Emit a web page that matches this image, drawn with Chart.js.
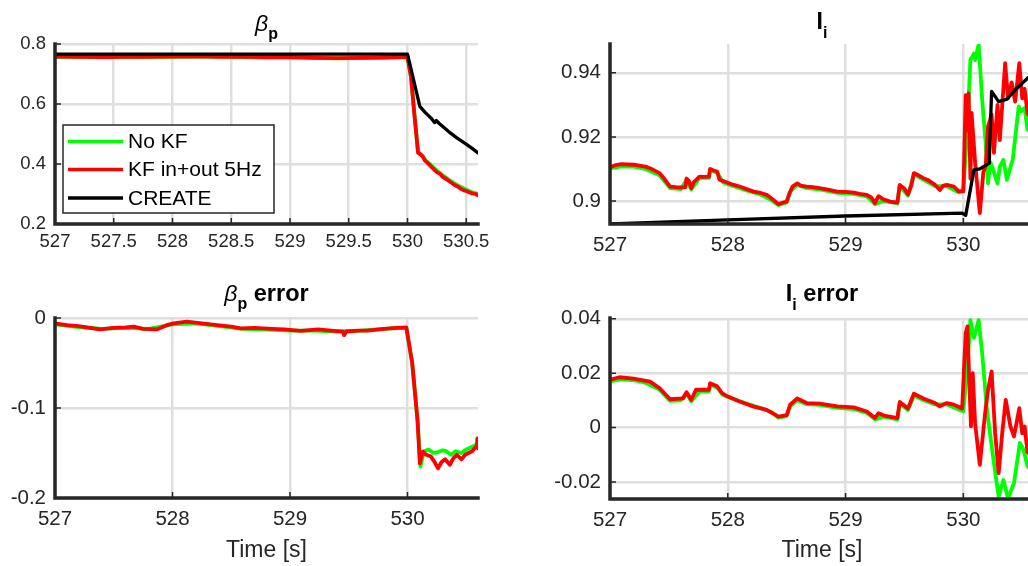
<!DOCTYPE html>
<html><head><meta charset="utf-8">
<script src="https://cdn.jsdelivr.net/npm/chart.js@4.4.1/dist/chart.umd.min.js"></script>
<style>
html,body{margin:0;padding:0;background:#fff;overflow:hidden}
#fig{position:relative;width:1028px;height:566px;overflow:hidden;background:#fff}
canvas{position:absolute;display:block}
</style></head><body>
<div id="fig">
<canvas id="c1" width="500" height="262" style="left:0;top:0;width:500px;height:262px"></canvas>
<canvas id="c2" width="500" height="262" style="left:555px;top:0;width:500px;height:262px"></canvas>
<canvas id="c3" width="500" height="304" style="left:0;top:262px;width:500px;height:304px"></canvas>
<canvas id="c4" width="500" height="304" style="left:555px;top:262px;width:500px;height:304px"></canvas>
</div>
<script>
// ---------- labels ----------
const seriesNames = ['No KF', 'KF in+out 5Hz', 'CREATE'];
const xLabel = 'Time [s]';
const ticksX_top = [527, 527.5, 528, 528.5, 529, 529.5, 530, 530.5];
const ticksX_int = [527, 528, 529, 530];
const ticksY_bp = [0.2, 0.4, 0.6, 0.8];
const ticksY_li = [0.9, 0.92, 0.94];
const ticksY_bpErr = [-0.2, -0.1, 0];
const ticksY_liErr = [-0.02, 0, 0.02, 0.04];

// ---------- beta_p ----------
const bp_t_red = [527.0,527.2,527.4,527.6,527.8,528.0,528.2,528.4,528.6,528.8,529.0,529.2,529.4,529.6,529.8,530.0,530.03,530.06,530.09,530.11,530.13,530.15,530.18,530.2,530.23,530.25,530.28,530.3,530.33,530.35,530.38,530.4,530.43,530.45,530.48,530.5,530.53,530.55,530.58,530.6];
const bp_red   = [0.758,0.757,0.756,0.757,0.757,0.758,0.759,0.757,0.757,0.756,0.756,0.754,0.753,0.754,0.755,0.757,0.69,0.56,0.437,0.432,0.425,0.411,0.400,0.392,0.380,0.373,0.366,0.357,0.350,0.344,0.336,0.330,0.324,0.318,0.312,0.310,0.305,0.302,0.300,0.296];
const bp_t_green = [527.0,527.3,527.6,527.9,528.2,528.5,528.8,529.1,529.4,529.7,530.0,530.03,530.06,530.09,530.12,530.15,530.2,530.25,530.3,530.35,530.4,530.45,530.5,530.55,530.6];
const bp_green   = [0.757,0.756,0.756,0.757,0.758,0.757,0.755,0.755,0.752,0.754,0.756,0.69,0.56,0.440,0.430,0.414,0.396,0.378,0.362,0.348,0.335,0.324,0.314,0.306,0.300];
const bp_t_black = [527.0,530.0,530.105,530.15,530.2,530.23,530.245,530.27,530.35,530.42,530.49,530.55,530.6];
const bp_black   = [0.766,0.766,0.592,0.572,0.553,0.538,0.545,0.535,0.508,0.487,0.469,0.452,0.437];

// ---------- l_i ----------
const li_t_red = [527.0,527.05,527.1,527.2,527.3,527.34,527.42,527.46,527.51,527.56,527.6,527.64,527.65,527.67,527.69,527.71,527.76,527.8,527.84,527.85,527.88,527.91,527.93,527.96,528.0,528.05,528.1,528.16,528.22,528.28,528.33,528.38,528.43,528.47,528.5,528.52,528.55,528.59,528.62,528.67,528.72,528.78,528.85,528.93,529.0,529.07,529.12,529.18,529.22,529.25,529.28,529.32,529.38,529.44,529.46,529.5,529.53,529.56,529.58,529.62,529.66,529.7,529.76,529.8,529.83,529.86,529.92,529.96,530.0,530.02,530.035,530.045,530.06,530.07,530.1,530.14,530.17,530.19,530.21,530.24,530.26,530.29,530.31,530.355,530.38,530.41,530.44,530.475,530.5,530.52,530.545,530.57,530.6];
const li_red   = [0.9105,0.9112,0.9115,0.9113,0.9107,0.9102,0.9087,0.9070,0.9045,0.9043,0.9042,0.9043,0.9070,0.9062,0.9040,0.9058,0.9076,0.9075,0.9076,0.9100,0.9095,0.9092,0.9066,0.9062,0.9057,0.9050,0.9045,0.9037,0.9029,0.9025,0.9019,0.9005,0.8990,0.8995,0.8998,0.9020,0.9045,0.9055,0.9048,0.9045,0.9043,0.9040,0.9035,0.9029,0.9028,0.9026,0.9022,0.9019,0.9010,0.8993,0.9015,0.9005,0.8998,0.8995,0.9050,0.9038,0.9020,0.9050,0.9087,0.9080,0.9071,0.9065,0.9050,0.9034,0.9048,0.9050,0.9045,0.9030,0.9030,0.9330,0.9220,0.9336,0.9070,0.9275,0.9120,0.8962,0.9090,0.9110,0.9232,0.9270,0.9150,0.9300,0.9190,0.9430,0.9320,0.9370,0.9310,0.9430,0.9320,0.9350,0.9274,0.9260,0.9280];
const li_t_green = [527.0,527.1,527.2,527.3,527.42,527.51,527.6,527.65,527.69,527.76,527.84,527.85,527.91,527.96,528.05,528.16,528.28,528.38,528.43,528.5,528.53,528.59,528.67,528.78,528.93,529.07,529.18,529.25,529.32,529.44,529.46,529.53,529.58,529.66,529.76,529.86,529.96,530.0,530.03,530.06,530.09,530.1,530.13,530.16,530.19,530.21,530.23,530.26,530.29,530.31,530.34,530.37,530.42,530.47,530.49,530.52,530.545,530.6];
const li_green   = [0.9102,0.9108,0.9107,0.9100,0.9080,0.9040,0.9037,0.9065,0.9036,0.9072,0.9072,0.9096,0.9088,0.9058,0.9046,0.9033,0.9020,0.9000,0.8987,0.8995,0.9030,0.9050,0.9040,0.9036,0.9025,0.9022,0.9014,0.8990,0.9000,0.8992,0.9046,0.9017,0.9083,0.9067,0.9046,0.9046,0.9027,0.9035,0.9200,0.9440,0.9460,0.9440,0.9488,0.9316,0.9180,0.9055,0.9120,0.9090,0.9055,0.9107,0.9128,0.9066,0.9130,0.9295,0.9280,0.9290,0.9222,0.9240];
const li_t_black = [527.0,528.0,529.0,529.99,530.02,530.09,530.14,530.22,530.24,530.30,530.37,530.455,530.545,530.6];
const li_black   = [0.8928,0.8941,0.8953,0.8962,0.8955,0.9097,0.9100,0.9118,0.9342,0.9310,0.9318,0.9352,0.9383,0.9400];

// ---------- beta_p error ----------
const bpe_t_red = [527.0,527.1,527.2,527.3,527.38,527.5,527.6,527.67,527.75,527.87,527.95,528.01,528.12,528.25,528.38,528.5,528.58,528.7,528.85,528.95,529.09,529.24,529.35,529.45,529.46,529.48,529.58,529.66,529.8,529.9,529.99,530.04,530.085,530.105,530.13,530.16,530.2,530.23,530.26,530.29,530.32,530.36,530.39,530.42,530.46,530.49,530.52,530.55,530.57,530.59,530.595,530.6];
const bpe_red   = [-0.006,-0.008,-0.009,-0.011,-0.0126,-0.011,-0.0105,-0.0096,-0.012,-0.0126,-0.008,-0.006,-0.004,-0.006,-0.0078,-0.0095,-0.0115,-0.011,-0.012,-0.0126,-0.0144,-0.0126,-0.014,-0.0152,-0.019,-0.015,-0.014,-0.0141,-0.012,-0.011,-0.0104,-0.05,-0.113,-0.1615,-0.1485,-0.152,-0.154,-0.160,-0.167,-0.160,-0.157,-0.163,-0.156,-0.152,-0.157,-0.152,-0.150,-0.148,-0.145,-0.142,-0.1337,-0.145];
const bpe_t_green = [527.0,527.2,527.4,527.6,527.8,528.0,528.2,528.4,528.6,528.8,529.0,529.2,529.4,529.6,529.8,529.99,530.04,530.085,530.11,530.14,530.18,530.22,530.26,530.3,530.33,530.37,530.41,530.46,530.5,530.55,530.6];
const bpe_green   = [-0.007,-0.010,-0.012,-0.011,-0.012,-0.007,-0.006,-0.009,-0.012,-0.013,-0.014,-0.014,-0.015,-0.014,-0.012,-0.011,-0.05,-0.113,-0.165,-0.148,-0.146,-0.150,-0.149,-0.147,-0.148,-0.152,-0.148,-0.150,-0.146,-0.143,-0.140];

// ---------- l_i error ----------
const lie_t_red = [527.0,527.08,527.2,527.34,527.42,527.51,527.62,527.65,527.69,527.73,527.84,527.85,527.91,527.95,528.0,528.1,528.22,528.33,528.43,528.5,528.53,528.59,528.67,528.78,528.93,529.07,529.18,529.25,529.28,529.32,529.44,529.46,529.53,529.58,529.66,529.76,529.8,529.86,529.92,529.99,530.02,530.035,530.05,530.065,530.08,530.1,530.14,530.185,530.21,530.24,530.27,530.3,530.33,530.36,530.4,530.43,530.475,530.5,530.52,530.545,530.6];
const lie_red   = [0.0176,0.0185,0.0180,0.0169,0.0145,0.0104,0.0107,0.0130,0.0102,0.0139,0.0139,0.0163,0.0152,0.0127,0.0114,0.0096,0.0077,0.0065,0.0040,0.0046,0.0084,0.0107,0.0090,0.0088,0.0078,0.0074,0.0059,0.0035,0.0053,0.0045,0.0035,0.0094,0.0070,0.0124,0.0107,0.0090,0.0078,0.0090,0.0084,0.0070,0.0347,0.0372,0.0176,0.0004,0.0200,0.0016,-0.0137,0.0053,0.0139,0.0206,-0.0020,-0.0168,-0.0021,0.0102,0.0004,-0.0033,0.0071,-0.0021,0.0004,-0.0090,-0.0120];
const lie_t_green = [527.0,527.1,527.2,527.3,527.42,527.51,527.6,527.65,527.69,527.76,527.84,527.85,527.91,527.96,528.05,528.16,528.28,528.38,528.43,528.5,528.53,528.59,528.67,528.78,528.93,529.07,529.18,529.25,529.32,529.44,529.46,529.53,529.58,529.66,529.76,529.86,529.96,530.0,530.03,530.06,530.09,530.13,530.16,530.2,530.26,530.3,530.34,530.38,530.43,530.48,530.51,530.545,530.6];
const lie_green   = [0.0170,0.0178,0.0174,0.0165,0.0140,0.0098,0.0100,0.0125,0.0097,0.0133,0.0133,0.0158,0.0146,0.0120,0.0105,0.0088,0.0072,0.0055,0.0036,0.0042,0.0078,0.0100,0.0086,0.0083,0.0072,0.0068,0.0054,0.0030,0.0040,0.0030,0.0088,0.0064,0.0118,0.0101,0.0085,0.0085,0.0066,0.0060,0.0200,0.0395,0.0330,0.0395,0.0274,0.0065,-0.0131,-0.0254,-0.0193,-0.0260,-0.0205,-0.0057,-0.0080,-0.0143,-0.0160];

// ---------- helpers ----------
const FONT = "'Liberation Sans', Arial, Helvetica, sans-serif";
const AXC = '#262626';
const COLORS = ['#00ff00', '#ff0000', '#000000'];
const pts = (t, v) => t.map((x, i) => ({x, y: v[i]}));

const matlabPlugin = {
  id: 'matlab',
  afterDatasetsDraw(chart, args, o) {
    const ctx = chart.ctx, a = chart.chartArea;
    const xs = chart.scales.x, ys = chart.scales.y;
    ctx.save();
    ctx.strokeStyle = AXC;
    ctx.lineWidth = 1.5;
    ctx.beginPath();
    xs.ticks.forEach(t => { const p = xs.getPixelForValue(t.value); ctx.moveTo(p, a.bottom); ctx.lineTo(p, a.bottom - 6); });
    ys.ticks.forEach(t => { const p = ys.getPixelForValue(t.value); ctx.moveTo(a.left, p); ctx.lineTo(a.left + 6, p); });
    ctx.stroke();
    ctx.lineWidth = 3.5;
    ctx.lineCap = 'square';
    ctx.beginPath();
    ctx.moveTo(a.left, a.top); ctx.lineTo(a.left, a.bottom); ctx.lineTo(a.right, a.bottom);
    ctx.stroke();
    ctx.restore();
  },
  afterDraw(chart, args, o) {
    const ctx = chart.ctx, a = chart.chartArea;
    ctx.save();
    if (o.title) {
      let w = 0;
      o.title.forEach(p => { ctx.font = p.font; w += ctx.measureText(p.text).width; });
      let x = (a.left + a.right) / 2 - w / 2;
      ctx.fillStyle = '#000';
      ctx.textBaseline = 'alphabetic';
      ctx.textAlign = 'left';
      o.title.forEach(p => {
        ctx.font = p.font;
        ctx.fillText(p.text, x, o.titleY + (p.dy || 0));
        x += ctx.measureText(p.text).width;
      });
    }
    if (o.legend) {
      const L = o.legend;
      ctx.fillStyle = '#fff';
      ctx.fillRect(L.x0, L.y0, L.x1 - L.x0, L.y1 - L.y0);
      ctx.strokeStyle = AXC;
      ctx.lineWidth = 1.5;
      ctx.strokeRect(L.x0, L.y0, L.x1 - L.x0, L.y1 - L.y0);
      chart.data.datasets.forEach((ds, i) => {
        const y = L.rows[i];
        ctx.strokeStyle = ds.borderColor;
        ctx.lineWidth = 3.5;
        ctx.beginPath(); ctx.moveTo(L.lx0, y); ctx.lineTo(L.lx1, y); ctx.stroke();
        ctx.fillStyle = '#000';
        ctx.font = L.font;
        ctx.textBaseline = 'middle';
        ctx.fillText(ds.label, L.tx, y + 1);
      });
    }
    ctx.restore();
  }
};

function makeChart(id, c) {
  const datasets = c.series.map((s, i) => ({
    label: seriesNames[i],
    data: pts(s[0], s[1]),
    borderColor: COLORS[i],
    backgroundColor: COLORS[i],
    borderWidth: i === 2 ? 3.3 : 3.8,
    pointRadius: 0,
    tension: 0,
    fill: false,
    borderJoinStyle: 'round',
    borderCapStyle: 'round',
    order: 3 - i
  }));
  return new Chart(document.getElementById(id), {
    type: 'line',
    data: { datasets },
    plugins: [matlabPlugin],
    options: {
      responsive: false,
      animation: false,
      devicePixelRatio: 1,
      layout: { padding: { top: c.padTop, right: c.padRight, left: 0, bottom: 0 } },
      plugins: {
        legend: { display: false },
        tooltip: { enabled: false },
        matlab: { title: c.title, titleY: c.titleY, legend: c.legend }
      },
      scales: {
        x: {
          type: 'linear', min: c.xMin, max: c.xMax,
          afterBuildTicks: s => { s.ticks = c.xTicks.map(v => ({value: v})); },
          afterFit: s => { s.height = c.xH; },
          grid: { color: '#dfdfdf', lineWidth: 2.5, drawTicks: false },
          border: { display: false },
          ticks: { autoSkip: false, maxRotation: 0, padding: c.xPad, color: AXC,
                   font: { family: FONT, size: c.tickSize }, callback: v => String(v) },
          title: c.xTitle ? { display: true, text: xLabel, color: AXC, font: { family: FONT, size: 23 }, padding: { top: 0, bottom: 2 } } : { display: false }
        },
        y: {
          type: 'linear', min: c.yMin, max: c.yMax,
          afterBuildTicks: s => { s.ticks = c.yTicks.map(v => ({value: v})); },
          afterFit: s => { s.width = 55; },
          grid: { color: '#dfdfdf', lineWidth: 2.5, drawTicks: false },
          border: { display: false },
          ticks: { padding: 9, color: AXC, font: { family: FONT, size: c.tickSize },
                   callback: v => String(parseFloat(v.toFixed(4))) }
        }
      }
    }
  });
}

const TF = (sz) => `bold ${sz}px ${FONT}`;
makeChart('c1', {
  series: [[bp_t_green, bp_green], [bp_t_red, bp_red], [bp_t_black, bp_black]],
  xMin: 527, xMax: 530.6, yMin: 0.2, yMax: 0.8, xTicks: ticksX_top, yTicks: ticksY_bp,
  padTop: 44, padRight: 22, xH: 38, xPad: 7, tickSize: 18.5, xTitle: false,
  title: [{text: 'β', font: `italic 23px ${FONT}`}, {text: 'p', font: TF(16), dy: 8}], titleY: 31,
  legend: { x0: 63, y0: 125, x1: 274, y1: 213, lx0: 68, lx1: 123, tx: 128, rows: [141.5, 169.5, 198], font: `21px ${FONT}` }
});
makeChart('c2', {
  series: [[li_t_green, li_green], [li_t_red, li_red], [li_t_black, li_black]],
  xMin: 527, xMax: 530.6, yMin: 0.8928, yMax: 0.949, xTicks: ticksX_int, yTicks: ticksY_li,
  padTop: 44, padRight: 21, xH: 38, xPad: 9, tickSize: 20.5, xTitle: false,
  title: [{text: 'I', font: TF(23)}, {text: 'i', font: TF(16), dy: 9}], titleY: 29
});
makeChart('c3', {
  series: [[bpe_t_green, bpe_green], [bpe_t_red, bpe_red]],
  xMin: 527, xMax: 530.6, yMin: -0.2, yMax: 0, xTicks: ticksX_int, yTicks: ticksY_bpErr,
  padTop: 56, padRight: 22, xH: 68, xPad: 9, tickSize: 20.5, xTitle: true,
  title: [{text: 'β', font: `italic 23px ${FONT}`}, {text: 'p', font: TF(16), dy: 8}, {text: ' error', font: TF(23.5)}], titleY: 39
});
makeChart('c4', {
  series: [[lie_t_green, lie_green], [lie_t_red, lie_red]],
  xMin: 527, xMax: 530.6, yMin: -0.0263, yMax: 0.0403, xTicks: ticksX_int, yTicks: ticksY_liErr,
  padTop: 56, padRight: 21, xH: 67, xPad: 9, tickSize: 20.5, xTitle: true,
  title: [{text: 'I', font: TF(23.5)}, {text: 'i', font: TF(16), dy: 9}, {text: ' error', font: TF(23.5)}], titleY: 39
});
</script>
</body></html>
